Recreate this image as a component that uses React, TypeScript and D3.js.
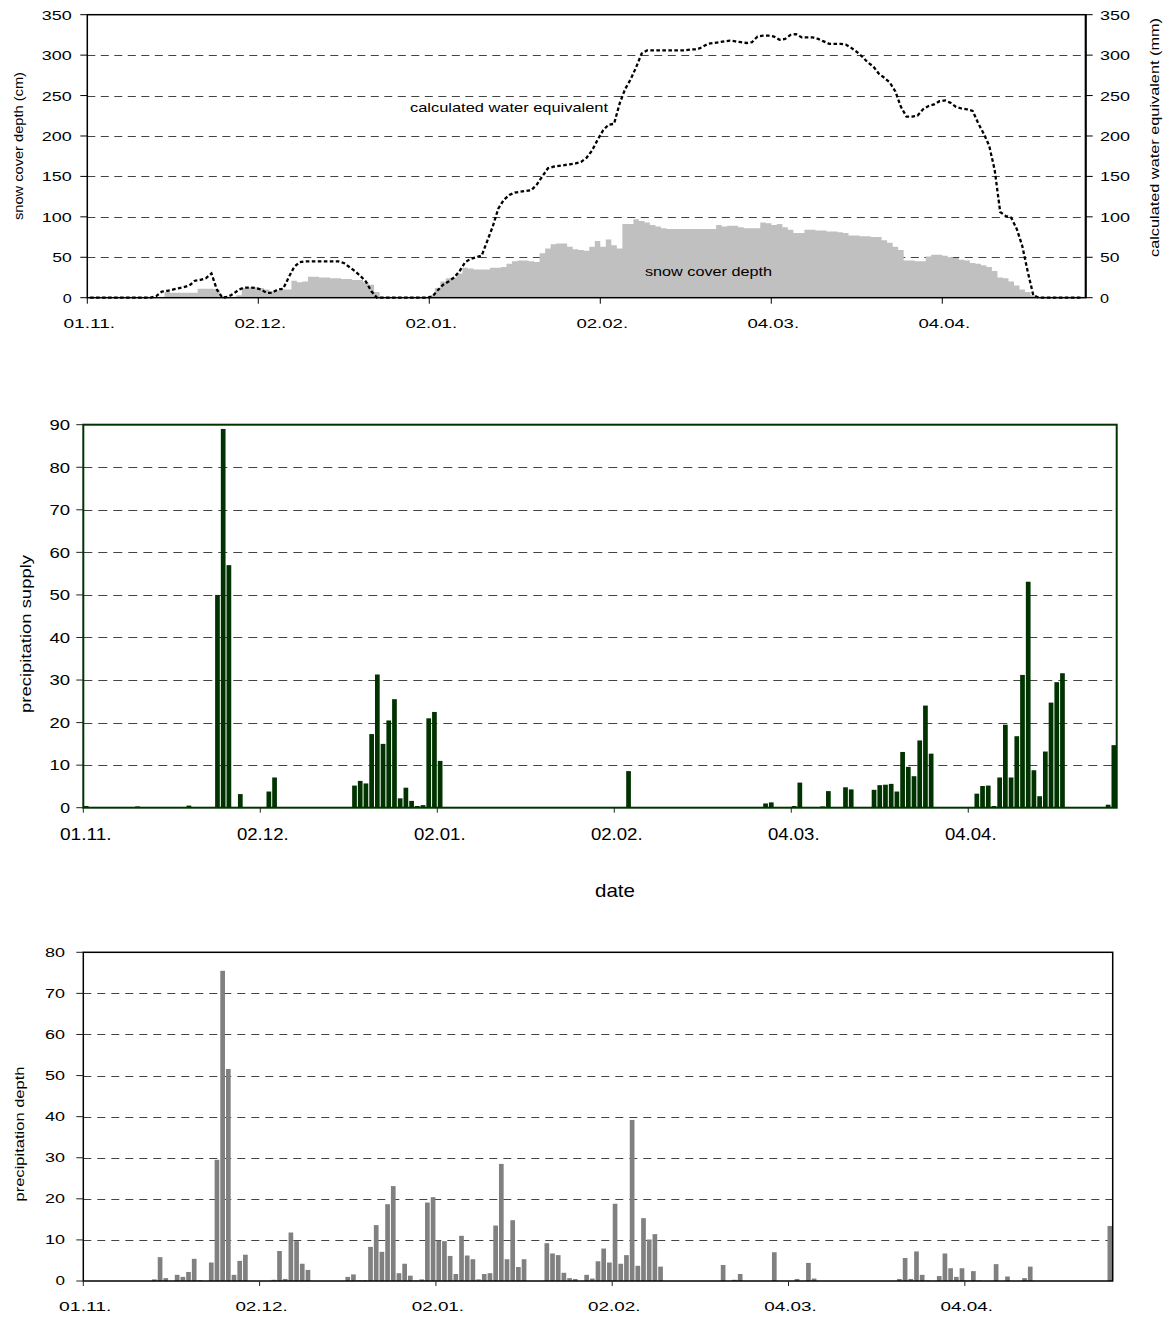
import React from 'react';
import * as d3 from 'd3';

// ---------- DATA ----------
const N = 181; // daily categories 01.11. – 29.04.
const tickIndices = [0, 31, 62, 93, 124, 155];
const tickLabels = ['01.11.', '02.12.', '02.01.', '02.02.', '04.03.', '04.04.'];

// snow cover depth (cm)
const snowDepth = [
  0, 0, 0, 0, 0, 0, 0, 0, 0, 0,
  0, 0, 0, 0, 7, 6, 6, 6, 6, 6,
  11, 11, 11, 10, 0, 0, 0, 3, 12, 13,
  13, 12, 10, 8, 9, 10, 10, 21, 19, 20,
  26, 26, 25, 25, 24, 24, 23, 23, 22, 22,
  19, 16, 7, 0, 0, 0, 0, 0, 0, 0,
  0, 0, 3, 12, 20, 24, 25, 30, 37, 36,
  35, 35, 35, 37, 37, 38, 42, 45, 46, 46,
  45, 44, 55, 61, 66, 67, 67, 63, 60, 59,
  58, 63, 70, 63, 72, 65, 61, 91, 91, 97,
  95, 93, 90, 88, 86, 85, 85, 85, 85, 85,
  85, 85, 85, 85, 90, 88, 89, 89, 87, 86,
  86, 86, 93, 92, 90, 91, 87, 84, 80, 80,
  84, 84, 83, 83, 82, 82, 81, 80, 77, 77,
  76, 76, 75, 75, 71, 68, 63, 59, 46, 46,
  45, 45, 51, 53, 53, 52, 50, 49, 47, 46,
  43, 42, 40, 38, 33, 25, 24, 20, 15, 10,
  7, 3, 0, 0, 0, 0, 0, 0, 0, 0,
  0,
];

// calculated water equivalent (mm)
const waterEquivalent = [
  0, 0, 0, 0, 0, 0, 0, 0, 0, 0,
  0, 0, 2, 7.5, 8.5, 10, 11.5, 13, 15, 21,
  22, 24, 30, 10, 0, 1, 5, 10, 12.5, 12.5,
  12, 10, 6, 6, 10, 11, 25, 38, 44, 45,
  45, 45, 45, 45, 45, 45, 43, 38, 33, 27,
  20, 8, 0, 0, 0, 0, 0, 0, 0, 0,
  0, 0, 1, 9, 16, 20, 25, 33, 44, 48,
  50, 52, 70, 88, 110, 121, 127, 130, 131, 132,
  133, 140, 150, 160, 162, 163, 164, 165, 166, 168,
  173, 182, 195, 207, 214, 215, 240, 258, 270, 285,
  302, 306, 306, 306, 306, 306, 306, 306, 306, 307,
  307, 310, 314, 315, 316, 317, 318, 317, 316, 315,
  316, 323, 324, 324, 323, 319, 320, 325, 326, 322,
  322, 322, 320, 317, 314, 314, 314, 313, 309, 304,
  298, 291, 286, 277, 272, 266, 255, 236, 224, 224,
  225, 233, 237, 239, 243, 244, 241, 236, 234, 233,
  231, 216, 203, 188, 158, 106, 101, 99, 85, 64,
  32, 3, 0, 0, 0, 0, 0, 0, 0, 0,
  0,
];

// precipitation supply
const precipSupply = [
  0.4, 0, 0, 0, 0, 0, 0, 0, 0, 0.3,
  0, 0, 0, 0, 0, 0, 0, 0, 0.5, 0,
  0, 0, 0, 50, 89, 57, 0, 3.2, 0, 0,
  0, 0, 3.8, 7.1, 0, 0, 0, 0, 0, 0,
  0, 0, 0, 0, 0, 0, 0, 5.2, 6.3, 5.7,
  17.3, 31.3, 15, 20.5, 25.5, 2.2, 4.7, 1.6, 0.4, 0.6,
  21, 22.5, 11, 0, 0, 0, 0, 0, 0, 0,
  0, 0, 0, 0, 0, 0, 0, 0, 0, 0,
  0, 0, 0, 0, 0, 0, 0, 0, 0, 0,
  0, 0, 0, 0, 0, 8.6, 0, 0, 0, 0,
  0, 0, 0, 0, 0, 0, 0, 0, 0, 0,
  0, 0, 0, 0, 0, 0, 0, 0, 0, 1.0,
  1.25, 0, 0, 0, 0.4, 5.9, 0, 0, 0, 0.3,
  3.9, 0, 0, 4.8, 4.3, 0, 0, 0, 4.2, 5.3,
  5.4, 5.6, 3.8, 13.1, 9.6, 7.4, 15.8, 24.0, 12.7, 0,
  0, 0, 0, 0, 0, 0, 3.3, 5.1, 5.2, 0.4,
  7.1, 19.5, 7.1, 16.8, 31.2, 53.1, 8.8, 2.7, 13.2, 24.7,
  29.5, 31.6, 0, 0, 0, 0, 0, 0, 0, 0.7,
  14.7,
];

// precipitation depth
const precipDepth = [
  0, 0, 0, 0, 0, 0, 0, 0, 0, 0,
  0, 0, 0.4, 5.8, 0.7, 0, 1.5, 1.0, 2.2, 5.4,
  0.2, 0, 4.5, 29.5, 75.5, 51.6, 1.5, 4.9, 6.4, 0,
  0, 0, 0, 0.3, 7.3, 0.5, 11.8, 9.7, 4.2, 2.7,
  0, 0, 0, 0, 0, 0, 1.0, 1.6, 0.2, 0.2,
  8.3, 13.6, 7.1, 18.7, 23.1, 1.9, 4.2, 1.3, 0.1, 0.4,
  19.1, 20.4, 9.8, 9.7, 6.1, 1.7, 11.0, 6.2, 5.3, 0.4,
  1.7, 1.9, 13.5, 28.5, 5.3, 14.8, 3.4, 5.3, 0, 0,
  0, 9.2, 6.7, 6.3, 2.0, 0.7, 0.5, 0, 1.5, 0.6,
  4.8, 7.9, 4.5, 18.8, 4.2, 6.3, 39.2, 3.7, 15.3, 10.1,
  11.4, 3.5, 0, 0, 0, 0, 0, 0, 0, 0,
  0, 0, 3.9, 0, 0.3, 1.7, 0, 0, 0, 0,
  0, 7.0, 0, 0, 0, 0.5, 0, 4.4, 0.6, 0,
  0, 0, 0, 0, 0, 0, 0, 0, 0, 0,
  0, 0, 0, 0.5, 5.6, 0.5, 7.2, 1.5, 0.1, 0,
  1.2, 6.7, 3.1, 1.0, 3.1, 0.1, 2.4, 0.1, 0, 0,
  4.1, 0, 1.1, 0, 0, 0.7, 3.5, 0, 0, 0,
  0, 0, 0, 0, 0, 0, 0, 0, 0, 0,
  13.4,
];

const snowTicks = [0, 50, 100, 150, 200, 250, 300, 350];
const supplyTicks = [0, 10, 20, 30, 40, 50, 60, 70, 80, 90];
const depthTicks = [0, 10, 20, 30, 40, 50, 60, 70, 80];

// ---------- RENDER ----------
const FONT = "'Liberation Sans', Arial, Helvetica, sans-serif";
const GRID = '#444';

type TProps = {
  x: number; y: number; text: string; size: number; len?: number;
  anchor?: 'start' | 'middle' | 'end'; rotate?: boolean; fill?: string;
};
function T({ x, y, text, size, len, anchor = 'middle', rotate = false, fill = '#000' }: TProps) {
  const common: any = {
    fontFamily: FONT,
    fontSize: size,
    textAnchor: anchor,
    fill,
  };
  if (len) {
    common.textLength = len;
    common.lengthAdjust = 'spacingAndGlyphs';
  }
  if (rotate) {
    return (
      <text transform={`translate(${x},${y}) rotate(-90)`} x={0} y={0} {...common}>
        {text}
      </text>
    );
  }
  return (
    <text x={x} y={y} {...common}>
      {text}
    </text>
  );
}

function Panel1() {
  const L = 87.3, R = 1085.7, Tp = 14.7, B = 297.7;
  const x = d3.scaleBand<number>().domain(d3.range(N)).range([L, R]);
  const bw = x.bandwidth();
  const y = d3.scaleLinear().domain([0, 350]).range([B, Tp]);
  const areaData = [...snowDepth, snowDepth[N - 1]];
  const area = d3
    .area<number>()
    .x((_, i) => (i < N ? (x(i) as number) : R))
    .y0(B)
    .y1((d) => y(d))
    .curve(d3.curveStepAfter);
  const line = d3
    .line<number>()
    .x((_, i) => (x(i) as number) + bw / 2)
    .y((d) => y(d));
  return (
    <g>
      {snowTicks.slice(1, -1).map((v) => (
        <line key={v} x1={L} x2={R} y1={Math.round(y(v)) + 0.5} y2={Math.round(y(v)) + 0.5}
          stroke={GRID} strokeWidth={1} strokeDasharray="8,5.5" />
      ))}
      <path d={area(areaData) || ''} fill="#c0c0c0" />
      <path d={line(waterEquivalent) || ''} fill="none" stroke="#000" strokeWidth={2.3}
        strokeDasharray="3.6,2.4" />
      <rect x={L} y={Tp} width={R - L} height={B - Tp} fill="none" stroke="#000" strokeWidth={1.5} />
      <line x1={R} x2={R} y1={Tp} y2={B} stroke="#000" strokeWidth={2} />
      {snowTicks.map((v) => (
        <g key={v}>
          <line x1={L - 7} x2={L} y1={y(v)} y2={y(v)} stroke="#000" strokeWidth={1} />
          <line x1={R} x2={R + 7} y1={y(v)} y2={y(v)} stroke="#000" strokeWidth={1} />
          <T x={71.7} y={y(v) + 5} text={String(v)} size={13.5} anchor="end"
            len={String(v).length * 10.5 - 1.5} />
          <T x={1100} y={y(v) + 5} text={String(v)} size={13.5} anchor="start"
            len={String(v).length * 10.5 - 1.5} />
        </g>
      ))}
      {tickIndices.map((ti, k) => (
        <g key={ti}>
          <line x1={x(ti)} x2={x(ti)} y1={B} y2={B + 6} stroke="#000" strokeWidth={1} />
          <T x={(x(ti) as number) + 2} y={328.3} text={tickLabels[k]} size={13.5} len={51.7} />
        </g>
      ))}
      <T x={22.5} y={146} text="snow cover depth (cm)" size={12} len={148} rotate />
      <T x={1159} y={137.5} text="calculated water equivalent (mm)" size={13} len={239} rotate />
      <T x={410} y={112} text="calculated water equivalent" size={13} len={198} anchor="start" />
      <T x={645} y={276} text="snow cover depth" size={13} len={127} anchor="start" />
    </g>
  );
}

type BarPanelProps = {
  L: number; R: number; Tp: number; B: number; max: number; ticks: number[];
  data: number[]; fill: string; frame: string; frameW: number; dash: string;
  tickLabelRight: number; tickSize: number; tickLen: number; tickDy: number;
  xlabelSize: number; xlabelY: number; xlabelLen: number; xlabelDx: number;
  title: string; titleX: number; titleY: number; titleSize: number; titleLen: number;
};
function BarPanel(p: BarPanelProps) {
  const x = d3.scaleBand<number>().domain(d3.range(N)).range([p.L, p.R]);
  const bw = x.bandwidth();
  const y = d3.scaleLinear().domain([0, p.max]).range([p.B, p.Tp]);
  return (
    <g>
      {p.ticks.slice(1, -1).map((v) => (
        <line key={v} x1={p.L} x2={p.R} y1={Math.round(y(v)) + 0.5} y2={Math.round(y(v)) + 0.5}
          stroke={GRID} strokeWidth={1} strokeDasharray={p.dash} />
      ))}
      {p.data.map((v, i) =>
        v > 0 ? (
          <rect key={i} x={(x(i) as number) + 0.5} y={y(v)} width={bw - 1} height={p.B - y(v)}
            fill={p.fill} />
        ) : null
      )}
      <rect x={p.L} y={p.Tp} width={p.R - p.L} height={p.B - p.Tp} fill="none" stroke={p.frame}
        strokeWidth={p.frameW} />
      {p.ticks.map((v) => (
        <g key={v}>
          <line x1={p.L - 7} x2={p.L} y1={y(v)} y2={y(v)} stroke="#222" strokeWidth={1} />
          <T x={p.tickLabelRight} y={y(v) + p.tickDy} text={String(v)} size={p.tickSize}
            anchor="end" len={String(v).length * p.tickLen - 1} />
        </g>
      ))}
      {tickIndices.map((ti, k) => (
        <g key={ti}>
          <line x1={x(ti)} x2={x(ti)} y1={p.B} y2={p.B + 5} stroke="#222" strokeWidth={1} />
          <T x={(x(ti) as number) + p.xlabelDx} y={p.xlabelY} text={tickLabels[k]}
            size={p.xlabelSize} len={p.xlabelLen} />
        </g>
      ))}
      <T x={p.titleX} y={p.titleY} text={p.title} size={p.titleSize} len={p.titleLen} rotate />
    </g>
  );
}

export default function App() {
  return (
    <svg width={1170} height={1317} viewBox="0 0 1170 1317"
      style={{ position: 'absolute', left: 0, top: 0, background: '#fff' }}>
      <rect x={0} y={0} width={1170} height={1317} fill="#fff" />
      <Panel1 />
      <BarPanel L={83.3} R={1116.7} Tp={424.7} B={807.7} max={90} ticks={supplyTicks}
        data={precipSupply} fill="#003300" frame="#003300" frameW={2} dash="9,6"
        tickLabelRight={70} tickSize={14.5} tickLen={10.8} tickDy={5.3}
        xlabelSize={16.5} xlabelY={840.3} xlabelLen={51.7} xlabelDx={2.5}
        title="precipitation supply" titleX={30.5} titleY={634} titleSize={14} titleLen={158} />
      <T x={615} y={897} text="date" size={19} len={40} />
      <BarPanel L={83.3} R={1112.7} Tp={952.3} B={1281} max={80} ticks={depthTicks}
        data={precipDepth} fill="#808080" frame="#000" frameW={1.5} dash="8,6"
        tickLabelRight={65} tickSize={12} tickLen={10.5} tickDy={4.3}
        xlabelSize={12.5} xlabelY={1310.7} xlabelLen={52.4} xlabelDx={2}
        title="precipitation depth" titleX={24.4} titleY={1134} titleSize={12} titleLen={135} />
    </svg>
  );
}
